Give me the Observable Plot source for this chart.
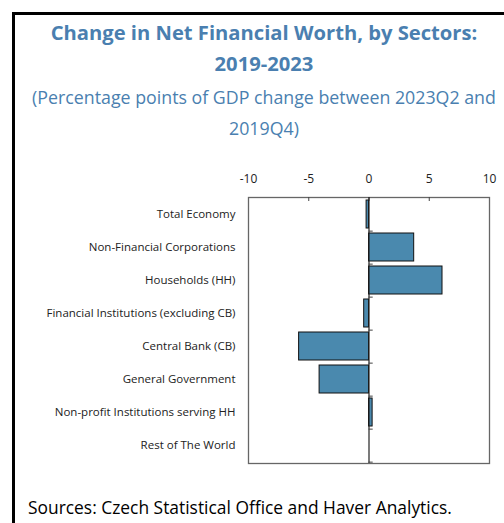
<!DOCTYPE html>
<html><head><meta charset="utf-8">
<script src="https://cdn.jsdelivr.net/npm/d3@7"></script>
<script src="https://cdn.jsdelivr.net/npm/@observablehq/plot@0.6"></script>
<style>
html,body{margin:0;padding:0;background:#fff;overflow:hidden;width:504px;height:523px;}
#box{position:absolute;left:12px;top:12px;width:600px;height:600px;border-left:3px solid #000;border-top:3px solid #000;}
.t{position:absolute;left:15px;width:498px;text-align:center;color:#4a7fb0;font-family:"Open Sans",sans-serif;white-space:nowrap;}
#title{top:17px;font-size:20.2px;font-weight:bold;line-height:31px;}
#sub{top:82px;font-size:17.8px;line-height:31px;}
#chart{position:absolute;left:0;top:0;}
#cap{position:absolute;left:28px;top:495px;font-family:"Open Sans",sans-serif;font-size:17.4px;color:#000;white-space:nowrap;}
</style></head>
<body>
<div id="box"></div>
<div class="t" id="title">Change in Net Financial Worth, by Sectors:<br>2019-2023</div>
<div class="t" id="sub">(Percentage points of GDP change between 2023Q2 and<br>2019Q4)</div>
<div id="chart"></div>
<div id="cap">Sources: Czech Statistical Office and Haver Analytics.</div>
<script>
const sectors = ["Total Economy","Non-Financial Corporations","Households (HH)","Financial Institutions (excluding CB)","Central Bank (CB)","General Government","Non-profit Institutions serving HH","Rest of The World"];
const values = [-0.2, 3.75, 6.1, -0.4, -5.8, -4.1, 0.3, 0];
const xTicks = [-10, -5, 0, 5, 10];
const data = sectors.map((s, i) => ({sector: s, value: values[i]}));
const frameH = 266;
const step = frameH / 8;
const chart = Plot.plot({
  width: 504, height: 480,
  marginLeft: 248, marginRight: 15, marginTop: 197, marginBottom: 480 - 197 - frameH,
  style: {fontFamily: "'Open Sans', sans-serif", fontSize: "12px", color: "#222", background: "transparent"},
  x: {domain: [-10, 10], ticks: xTicks},
  y: {domain: sectors, paddingInner: 0.14, paddingOuter: 0.07},
  marks: [
    Plot.frame({stroke: "#666", strokeWidth: 1.3}),
    Plot.axisX({anchor: "top", ticks: xTicks, tickSize: 0, tickPadding: 15, label: null, fontSize: 12, tickFormat: d => String(d)}),
    Plot.ruleX(xTicks.slice(1, -1), {insetBottom: frameH - 4, stroke: "#444"}),
    Plot.axisY({anchor: "left", tickSize: 0, tickPadding: 13, label: null, fontSize: 11.5}),
    Plot.barX(data, {y: "sector", x: "value", fill: "#4a89ae", stroke: "#111", strokeWidth: 1}),
    Plot.ruleX([0], {stroke: "#222", strokeWidth: 1.2}),
    Plot.ruleY(sectors, {y: d => d, x1: 0, x2: 0.35, dy: step / 2, stroke: "#444"})
  ]
});
document.getElementById("chart").appendChild(chart);
</script>
</body></html>
